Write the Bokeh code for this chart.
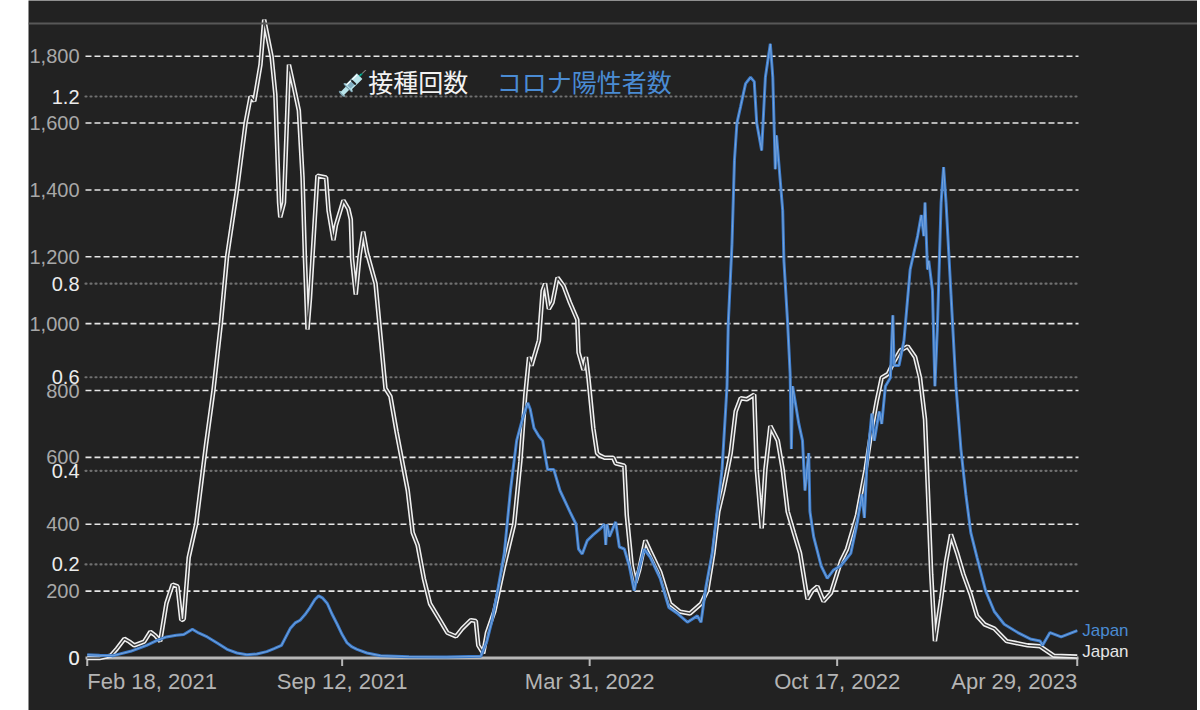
import pandas as pd
from bokeh.plotting import figure
from bokeh.models import Range1d, Label, Span, Spacer
from bokeh.layouts import row
from bokeh.core.properties import value
from bokeh.embed import file_html
from bokeh.resources import INLINE

# ---------------- data ----------------
base_date = "2021-02-18"

# vaccinations per hundred (white line), day offset from base_date
vacc_days = [0, 10, 19, 24, 30, 34, 38, 46, 51, 55, 59, 64, 69, 73, 76, 78, 82, 88, 96, 102,
             108, 113, 121, 128, 132, 135, 140, 143, 149, 152, 155, 156, 159, 163, 167, 171,
             174, 176, 178, 180, 186, 193, 195, 199, 201, 207, 211, 213, 214, 217, 220, 223,
             226, 233, 237, 241, 245, 250, 259, 263, 267, 272, 277, 285, 291, 298, 303, 310,
             314, 316, 320, 323, 329, 337, 345, 350, 354, 357, 359, 365, 368, 370, 373, 376,
             380, 385, 390, 396, 397, 401, 403, 405, 409, 412, 414, 418, 425, 427, 434, 436,
             440, 443, 446, 451, 455, 463, 471, 479, 487, 496, 501, 506, 510, 514, 516, 520,
             524, 528, 533, 539, 541, 545, 548, 552, 558, 562, 566, 571, 576, 582, 586, 590,
             595, 601, 609, 614, 622, 629, 634, 638, 642, 647, 652, 657, 663, 669, 673, 677,
             680, 682, 685, 690, 694, 698, 703, 708, 714, 719, 725, 733, 743, 760, 770, 781, 800]
vacc_vals = [0.0, 0.0, 0.005, 0.02, 0.041, 0.035, 0.027, 0.035, 0.056, 0.048, 0.036, 0.117,
             0.157, 0.153, 0.081, 0.083, 0.215, 0.286, 0.456, 0.572, 0.715, 0.858, 1.0, 1.144,
             1.2, 1.19, 1.268, 1.364, 1.285, 1.205, 0.973, 0.942, 0.973, 1.268, 1.22, 1.17,
             1.027, 0.848, 0.702, 0.768, 1.031, 1.027, 0.956, 0.893, 0.925, 0.978, 0.96, 0.937,
             0.853, 0.777, 0.858, 0.911, 0.867, 0.80, 0.688, 0.576, 0.559, 0.483, 0.358, 0.268,
             0.241, 0.17, 0.116, 0.081, 0.054, 0.046, 0.063, 0.081, 0.079, 0.027, 0.01, 0.054,
             0.1, 0.198, 0.286, 0.42, 0.563, 0.643, 0.625, 0.679, 0.785, 0.80, 0.746, 0.76,
             0.813, 0.795, 0.76, 0.723, 0.653, 0.616, 0.643, 0.599, 0.491, 0.438, 0.433, 0.428,
             0.428, 0.416, 0.411, 0.305, 0.198, 0.161, 0.188, 0.251, 0.228, 0.184, 0.116, 0.099,
             0.095, 0.116, 0.143, 0.224, 0.313, 0.358, 0.384, 0.438, 0.527, 0.555, 0.553, 0.563,
             0.403, 0.277, 0.403, 0.496, 0.465, 0.403, 0.313, 0.268, 0.224, 0.126, 0.144, 0.153,
             0.121, 0.139, 0.206, 0.233, 0.305, 0.403, 0.491, 0.549, 0.599, 0.607, 0.634, 0.657,
             0.666, 0.643, 0.599, 0.51, 0.313, 0.179, 0.036, 0.126, 0.206, 0.264, 0.224, 0.179,
             0.135, 0.09, 0.072, 0.063, 0.036, 0.027, 0.025, 0.005, 0.003]

# positive cases per million (blue line), day offset from base_date
case_days = [0, 10, 21, 35, 48, 56, 64, 72, 78, 85, 90, 97, 105, 113, 121, 129, 137, 145, 151,
             157, 164, 168, 172, 176, 180, 184, 187, 190, 194, 198, 202, 206, 210, 214, 218,
             226, 237, 260, 290, 318, 323, 327, 331, 337, 342, 347, 352, 356, 358, 361, 365,
             368, 372, 377, 382, 390, 395, 397, 400, 404, 409, 415, 418, 419, 420, 422, 427,
             430, 434, 438, 442, 444, 450, 455, 463, 470, 477, 485, 493, 496, 500, 505, 509,
             513, 516, 517, 518, 521, 523, 525, 528, 532, 536, 539, 541, 545, 548, 552, 554,
             556, 557, 562, 563, 566, 568, 569, 570, 575, 578, 580, 583, 584, 587, 593, 598,
             603, 609, 617, 622, 626, 628, 630, 634, 636, 640, 642, 645, 649, 651, 652, 656,
             660, 665, 671, 674, 676, 677, 679, 680, 683, 685, 687, 690, 692, 694, 698, 702,
             706, 710, 714, 719, 726, 733, 741, 752, 762, 770, 772, 778, 787, 800]
case_vals = [10, 8, 7, 20, 38, 52, 63, 68, 70, 86, 75, 63, 45, 26, 15, 10, 12, 19, 28, 38, 88,
             105, 113, 130, 151, 175, 186, 180, 163, 130, 101, 70, 45, 33, 26, 15, 7, 4, 3, 5,
             51, 110, 188, 313, 501, 650, 719, 763, 744, 688, 663, 650, 564, 564, 501, 438, 400,
             326, 311, 351, 369, 388, 400, 338, 400, 363, 407, 332, 326, 276, 201, 238, 326,
             301, 238, 151, 133, 107, 126, 107, 214, 313, 438, 564, 750, 813, 1000, 1237, 1488,
             1600, 1650, 1718, 1737, 1724, 1600, 1518, 1737, 1837, 1737, 1462, 1563, 1338, 1187,
             1000, 851, 625, 813, 701, 650, 501, 613, 438, 363, 276, 238, 263, 276, 313, 400,
             489, 419, 576, 731, 650, 737, 700, 813, 838, 1025, 875, 875, 950, 1162, 1262, 1325,
             1262, 1362, 1162, 1188, 1100, 813, 988, 1362, 1468, 1362, 1087, 813, 625, 489, 375,
             301, 201, 139, 101, 76, 57, 51, 38, 76, 63, 82]

tick_dates = ["2021-02-18", "2021-09-12", "2022-03-31", "2022-10-17", "2023-04-29"]
tick_labels = ["Feb 18, 2021", "Sep 12, 2021", "Mar 31, 2022", "Oct 17, 2022", "Apr 29, 2023"]
tick_align = ["left", "center", "center", "center", "right"]

case_ticks = [0, 200, 400, 600, 800, 1000, 1200, 1400, 1600, 1800]
case_tick_labels = ["0", "200", "400", "600", "800", "1,000", "1,200", "1,400", "1,600", "1,800"]
vacc_ticks = [0, 0.2, 0.4, 0.6, 0.8, 1.2]
vacc_tick_labels = ["0", "0.2", "0.4", "0.6", "0.8", "1.2"]

series_vacc_name = "接種回数"
series_case_name = "コロナ陽性者数"
country = "Japan"

# ---------------- layout constants (pixels) ----------------
W, H = 1169, 710
PLOT_L, PLOT_R = 57, 1050          # inner plotting area inside the canvas
ZERO_Y = 657.5                     # pixel row of the zero line
CASE_PX = 601.8 / 1800             # px per case unit
VACC_PX = 561.5 / 1.2              # px per vaccination unit
PPD = 1.2375                       # px per day
TICK_LEN = 8

BG = "#222222"
FONT = value("Liberation Sans")

t0 = pd.Timestamp(base_date)
vacc_x = t0 + pd.to_timedelta(vacc_days, unit="D")
case_x = t0 + pd.to_timedelta(case_days, unit="D")
x_start = t0 - pd.Timedelta(days=1.4)
x_end = x_start + pd.Timedelta(days=(PLOT_R - PLOT_L) / PPD)
view_start = x_start - pd.Timedelta(days=PLOT_L / PPD)
view_end = x_end + pd.Timedelta(days=(W - PLOT_R) / PPD)

p = figure(width=W, height=H, x_axis_type="datetime",
           x_range=Range1d(view_start, view_end),
           y_range=Range1d(-(H - ZERO_Y) / CASE_PX, ZERO_Y / CASE_PX),
           x_axis_location=None, y_axis_location=None,
           output_backend="svg", toolbar_location=None, min_border=0)
p.extra_y_ranges = {"vacc": Range1d(-(H - ZERO_Y) / VACC_PX, ZERO_Y / VACC_PX)}
p.background_fill_color = BG
p.border_fill_color = BG
p.outline_line_color = None
p.grid.visible = False

# top rule
p.add_layout(Span(location=(ZERO_Y - 23) / CASE_PX, dimension="width",
                  line_color="#585858", line_width=2))

# grid lines (from tick arrays)
cg = case_ticks[1:]
p.segment(x0=[x_start] * len(cg), x1=[x_end] * len(cg), y0=cg, y1=cg,
          line_color="#e6e6e6", line_width=1.6, line_dash="6 3")
vg = vacc_ticks[1:]
p.segment(x0=[x_start] * len(vg), x1=[x_end] * len(vg), y0=vg, y1=vg, y_range_name="vacc",
          line_color="#707070", line_width=2.2, line_dash="1 4", line_cap="round")

# x axis line and ticks
tdates = [pd.Timestamp(d) for d in tick_dates]
p.segment(x0=[x_start], x1=[x_end], y0=[0], y1=[0], line_color="#b8b8b8", line_width=3)
p.segment(x0=tdates, x1=tdates, y0=[0] * len(tdates), y1=[-TICK_LEN / CASE_PX] * len(tdates),
          line_color="#b8b8b8", line_width=2)

# lines
p.line(vacc_x, vacc_vals, y_range_name="vacc", line_color="#f0f0f0", line_width=4.5)
p.line(vacc_x, vacc_vals, y_range_name="vacc", line_color="#3a3a3a", line_width=1.4)
p.line(case_x, case_vals, line_color="#3b7bcb", line_width=3)
p.line(case_x, case_vals, line_color="#7ea9de", line_width=0.9)

# tick labels
p.text(x=tdates, y=[-23 / CASE_PX] * len(tdates), text=tick_labels,
       text_align=tick_align, text_baseline="middle", text_font=FONT,
       text_font_size="22px", text_color="#b4b4b4")
p.text(x=[x_start] * len(case_ticks), y=case_ticks, text=case_tick_labels, x_offset=-6,
       text_align="right", text_baseline="middle", text_font=FONT,
       text_font_size="20px", text_color="#a8a8a8")
p.text(x=[x_start] * len(vacc_ticks), y=vacc_ticks, text=vacc_tick_labels, x_offset=-6,
       y_range_name="vacc", text_align="right", text_baseline="middle", text_font=FONT,
       text_font_size="20px", text_color="#ececec")

# legend-like titles
CJK = "Noto Sans CJK JP"
p.add_layout(Label(x=pd.Timestamp("2021-09-08"), y=1727, text="💉" + series_vacc_name,
                   text_baseline="middle", text_font=CJK, text_font_size="25px",
                   text_color="#f2f2f2"))
p.add_layout(Label(x=pd.Timestamp("2022-01-15"), y=1727, text=series_case_name,
                   text_baseline="middle", text_font=CJK, text_font_size="25px",
                   text_color="#4a8bd3"))

# end labels
p.add_layout(Label(x=case_x[-1], y=case_vals[-1], text=country, x_offset=5,
                   text_baseline="middle", text_font="Liberation Sans", text_font_size="17px",
                   text_color="#4a8bd3"))
p.add_layout(Label(x=vacc_x[-1], y=vacc_vals[-1] + 5 / VACC_PX, y_range_name="vacc",
                   text=country, x_offset=5, text_baseline="middle",
                   text_font="Liberation Sans", text_font_size="17px", text_color="#e6e6e6"))

layout = row(Spacer(width=28, height=H), p)
open("out.html", "w").write(file_html(layout, INLINE))
